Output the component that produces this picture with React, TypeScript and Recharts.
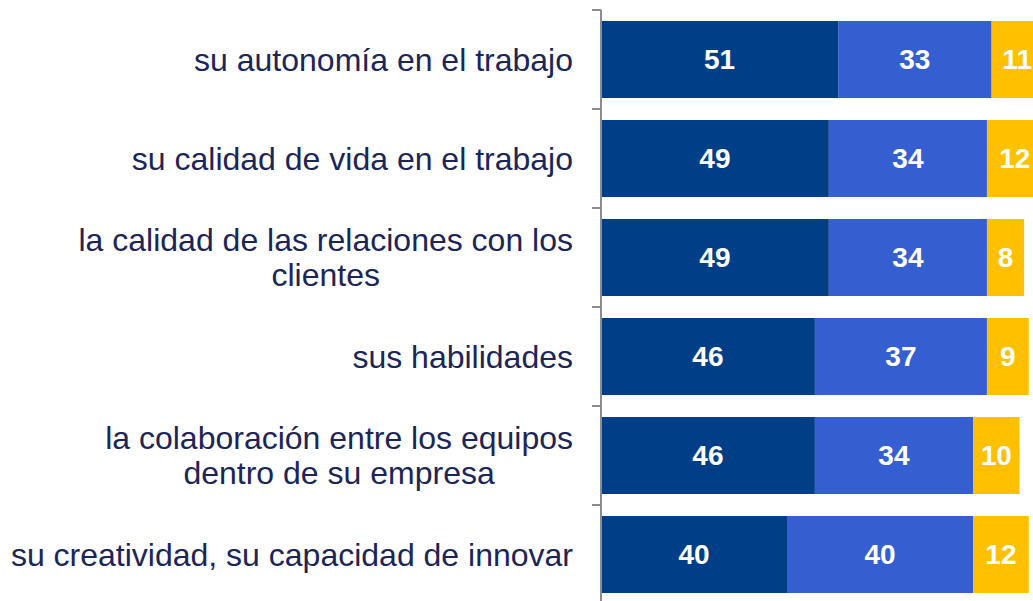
import { BarChart, Bar, XAxis, YAxis, LabelList } from 'recharts';

const categories = [
  'su autonomía en el trabajo',
  'su calidad de vida en el trabajo',
  'la calidad de las relaciones con los\nclientes',
  'sus habilidades',
  'la colaboración entre los equipos\ndentro de su empresa',
  'su creatividad, su capacidad de innovar',
];
const muchMore = [51, 49, 49, 46, 46, 40];
const more = [33, 34, 34, 37, 34, 40];
const same = [11, 12, 8, 9, 10, 12];

const COLORS = ['#003f87', '#355fd0', '#ffc000'];
const FONT = "'Liberation Sans', Arial, sans-serif";
const LABEL_SIZE = 32;

const CHART_W = 1066;
const CHART_H = 612;
const MARGIN = { top: 10, right: 0, bottom: 8, left: 0 };
const AXIS_W = 601;
const HALF_BAND = (CHART_H - MARGIN.top - MARGIN.bottom) / categories.length / 2;

const data = categories.map((name, i) => ({
  name,
  a: muchMore[i],
  b: more[i],
  c: same[i],
}));

let ctx: CanvasRenderingContext2D | null = null;
function textWidth(s: string) {
  if (!ctx) ctx = document.createElement('canvas').getContext('2d');
  if (!ctx) return s.length * LABEL_SIZE * 0.5;
  ctx.font = `${LABEL_SIZE}px ${FONT}`;
  return ctx.measureText(s).width;
}

// ticks sit on the band edges, not the band centres
function CategoryTick(props: any) {
  const { x, y, payload, index } = props;
  const axisX = x + 8;
  const lines = String(payload.value).split('\n');
  const right = axisX - 28;
  const w = Math.max(...lines.map(textWidth));
  const cx = right - w / 2;
  const lh = 35;
  const y0 = y - ((lines.length - 1) * lh) / 2;
  return (
    <g>
      <line x1={axisX - 9} x2={axisX} y1={y - HALF_BAND} y2={y - HALF_BAND} stroke="#8c8c8c" strokeWidth={2} />
      {index === categories.length - 1 && (
        <line x1={axisX - 9} x2={axisX} y1={y + HALF_BAND} y2={y + HALF_BAND} stroke="#8c8c8c" strokeWidth={2} />
      )}
      <text
        x={cx}
        y={y0}
        textAnchor="middle"
        dominantBaseline="central"
        fill="#1b2558"
        fontSize={LABEL_SIZE}
        fontFamily={FONT}
      >
        {lines.map((l, i) => (
          <tspan key={i} x={cx} y={y0 + i * lh}>
            {l}
          </tspan>
        ))}
      </text>
    </g>
  );
}

const valueLabel = {
  position: 'center' as const,
  fill: '#ffffff',
  fontSize: 28,
  fontWeight: 'bold',
  fontFamily: FONT,
};

export default function App() {
  return (
    <div style={{ position: 'absolute', top: 0, left: 0, width: 1033, height: 601, overflow: 'hidden', background: '#fff' }}>
      <BarChart width={CHART_W} height={CHART_H} data={data} layout="vertical" margin={MARGIN} barSize={77}>
        <XAxis type="number" domain={[0, 100]} hide />
        <YAxis
          type="category"
          dataKey="name"
          width={AXIS_W}
          axisLine={{ stroke: '#8c8c8c', strokeWidth: 2 }}
          tickLine={false}
          tick={<CategoryTick />}
          interval={0}
        />
        <Bar dataKey="a" stackId="s" fill={COLORS[0]} isAnimationActive={false}>
          <LabelList dataKey="a" {...valueLabel} />
        </Bar>
        <Bar dataKey="b" stackId="s" fill={COLORS[1]} isAnimationActive={false}>
          <LabelList dataKey="b" {...valueLabel} />
        </Bar>
        <Bar dataKey="c" stackId="s" fill={COLORS[2]} isAnimationActive={false}>
          <LabelList dataKey="c" {...valueLabel} />
        </Bar>
      </BarChart>
    </div>
  );
}
